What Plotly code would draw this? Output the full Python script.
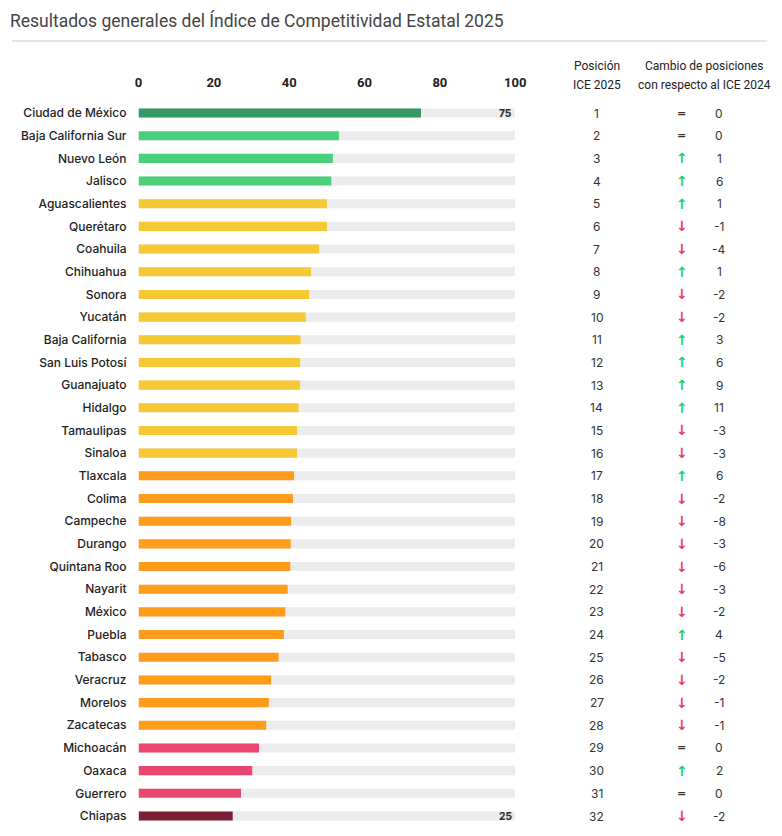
import plotly.graph_objects as go

W, H = 782, 836
OFF = 8  # la página deja 8 px de margen arriba y a la izquierda

estados = [
    "Ciudad de México", "Baja California Sur", "Nuevo León", "Jalisco",
    "Aguascalientes", "Querétaro", "Coahuila", "Chihuahua", "Sonora",
    "Yucatán", "Baja California", "San Luis Potosí", "Guanajuato", "Hidalgo",
    "Tamaulipas", "Sinaloa", "Tlaxcala", "Colima", "Campeche", "Durango",
    "Quintana Roo", "Nayarit", "México", "Puebla", "Tabasco", "Veracruz",
    "Morelos", "Zacatecas", "Michoacán", "Oaxaca", "Guerrero", "Chiapas",
]
puntaje = [
    75.0, 53.2, 51.6, 51.2, 50.0, 50.0, 47.9, 45.8, 45.3, 44.4, 43.0, 42.9,
    42.9, 42.5, 42.1, 42.1, 41.3, 41.0, 40.5, 40.4, 40.3, 39.6, 39.0, 38.6,
    37.2, 35.2, 34.6, 33.9, 32.0, 30.2, 27.2, 25.0,
]
posicion = list(range(1, 33))
cambio = [0, 0, 1, 6, 1, -1, -4, 1, -2, -2, 3, 6, 9, 11, -3, -3, 6, -2, -8,
          -3, -6, -3, -2, 4, -5, -2, -1, -1, 0, 2, 0, -2]
grupo = ["muy alta"] + ["alta"] * 3 + ["media alta"] * 12 + \
        ["media baja"] * 12 + ["baja"] * 3 + ["muy baja"]
ticks_x = [0, 20, 40, 60, 80, 100]

colores_grupo = {
    "muy alta": "#339966",
    "alta": "#4ad07a",
    "media alta": "#f5c834",
    "media baja": "#ff9c1b",
    "baja": "#e9476f",
    "muy baja": "#7b1f36",
}


def px_x(x):
    return (x - OFF) / W


def px_y(y):
    return 1 - (y - OFF) / H


fig = go.Figure()

# barra gris de fondo (0-100)
fig.add_trace(go.Bar(
    y=estados, x=[100] * len(estados), orientation="h",
    marker=dict(color="#ececec", line_width=0),
    width=0.4, hoverinfo="skip", showlegend=False,
))
fig.add_trace(go.Bar(
    y=estados, x=puntaje, orientation="h",
    marker=dict(color=[colores_grupo[g] for g in grupo], line_width=0),
    width=0.4, showlegend=False,
    hovertemplate="%{y}: %{x:.1f}<extra></extra>",
))

row_top, row_bot = 113, 816
step = (row_bot - row_top) / (len(estados) - 1)

fig.update_layout(
    width=W, height=H,
    margin=dict(l=0, r=0, t=0, b=0),
    paper_bgcolor="white", plot_bgcolor="white",
    barmode="overlay",
    font=dict(family="Inter, Roboto, Arial, sans-serif", color="#333"),
    xaxis=dict(
        domain=[px_x(137), px_x(521)], range=[0, 100], side="top",
        tickvals=ticks_x, showgrid=False, zeroline=False, showline=False,
        ticklabelstandoff=11,
        tickfont=dict(size=13, color="#222", family="Roboto, Arial", weight=700),
        fixedrange=True,
    ),
    yaxis=dict(
        domain=[px_y(row_bot + step / 2), px_y(row_top - step / 2)],
        type="category", categoryorder="array", categoryarray=estados,
        autorange="reversed", showgrid=False, zeroline=False, showline=False,
        ticklabelstandoff=11,
        tickfont=dict(size=12, color="#222", family="Inter, Roboto, Arial", weight=500),
        fixedrange=True,
    ),
)

ann = []
# título
ann.append(dict(
    x=px_x(4), y=1, xref="paper", yref="paper",
    xanchor="left", yanchor="top", showarrow=False,
    text="Resultados generales del Índice de Competitividad Estatal 2025",
    font=dict(size=17.5, color="#444", family="Roboto, Arial"),
))
# encabezados de columnas
for texto, xc, yc in [("Posición", 604, 66), ("ICE 2025", 604, 85),
                      ("Cambio de posiciones", 714, 66),
                      ("con respecto al ICE 2024", 714, 85)]:
    ann.append(dict(
        x=px_x(xc), y=px_y(yc), xref="paper", yref="paper",
        xanchor="center", yanchor="middle", showarrow=False,
        text=texto, font=dict(size=12, color="#222", family="Roboto, Arial"),
    ))

# etiquetas de valor en primera y última barra
for i in (0, len(estados) - 1):
    ann.append(dict(
        x=99.6, y=estados[i], xref="x", yref="y",
        xanchor="right", yanchor="middle", showarrow=False,
        text="%d" % round(puntaje[i]),
        font=dict(size=10, color="#333", family="Inter, Roboto", weight=800),
    ))

for est, pos, cam in zip(estados, posicion, cambio):
    ann.append(dict(
        x=px_x(604), y=est, xref="paper", yref="y",
        xanchor="center", yanchor="middle", showarrow=False,
        text=str(pos), font=dict(size=12, color="#333", family="Inter, Roboto"),
    ))
    if cam > 0:
        simbolo, col, tam = "↑", "#1fd06a", 14
    elif cam < 0:
        simbolo, col, tam = "↓", "#ec3a63", 14
    else:
        simbolo, col, tam = "=", "#333", 11
    ann.append(dict(
        x=px_x(691), y=est, xref="paper", yref="y",
        xanchor="center", yanchor="middle", showarrow=False,
        text=simbolo,
        font=dict(size=tam, color=col, family="DejaVu Sans", weight=700),
    ))
    ann.append(dict(
        x=px_x(729), y=est, xref="paper", yref="y",
        xanchor="center", yanchor="middle", showarrow=False,
        text=str(cam), font=dict(size=12, color="#333", family="Inter, Roboto"),
    ))

fig.update_layout(annotations=ann)

fig.add_shape(
    type="line", xref="paper", yref="paper",
    x0=0, x1=px_x(778), y0=px_y(41), y1=px_y(41),
    line=dict(color="#e6e6e6", width=2),
)

fig.write_html("out.html")
